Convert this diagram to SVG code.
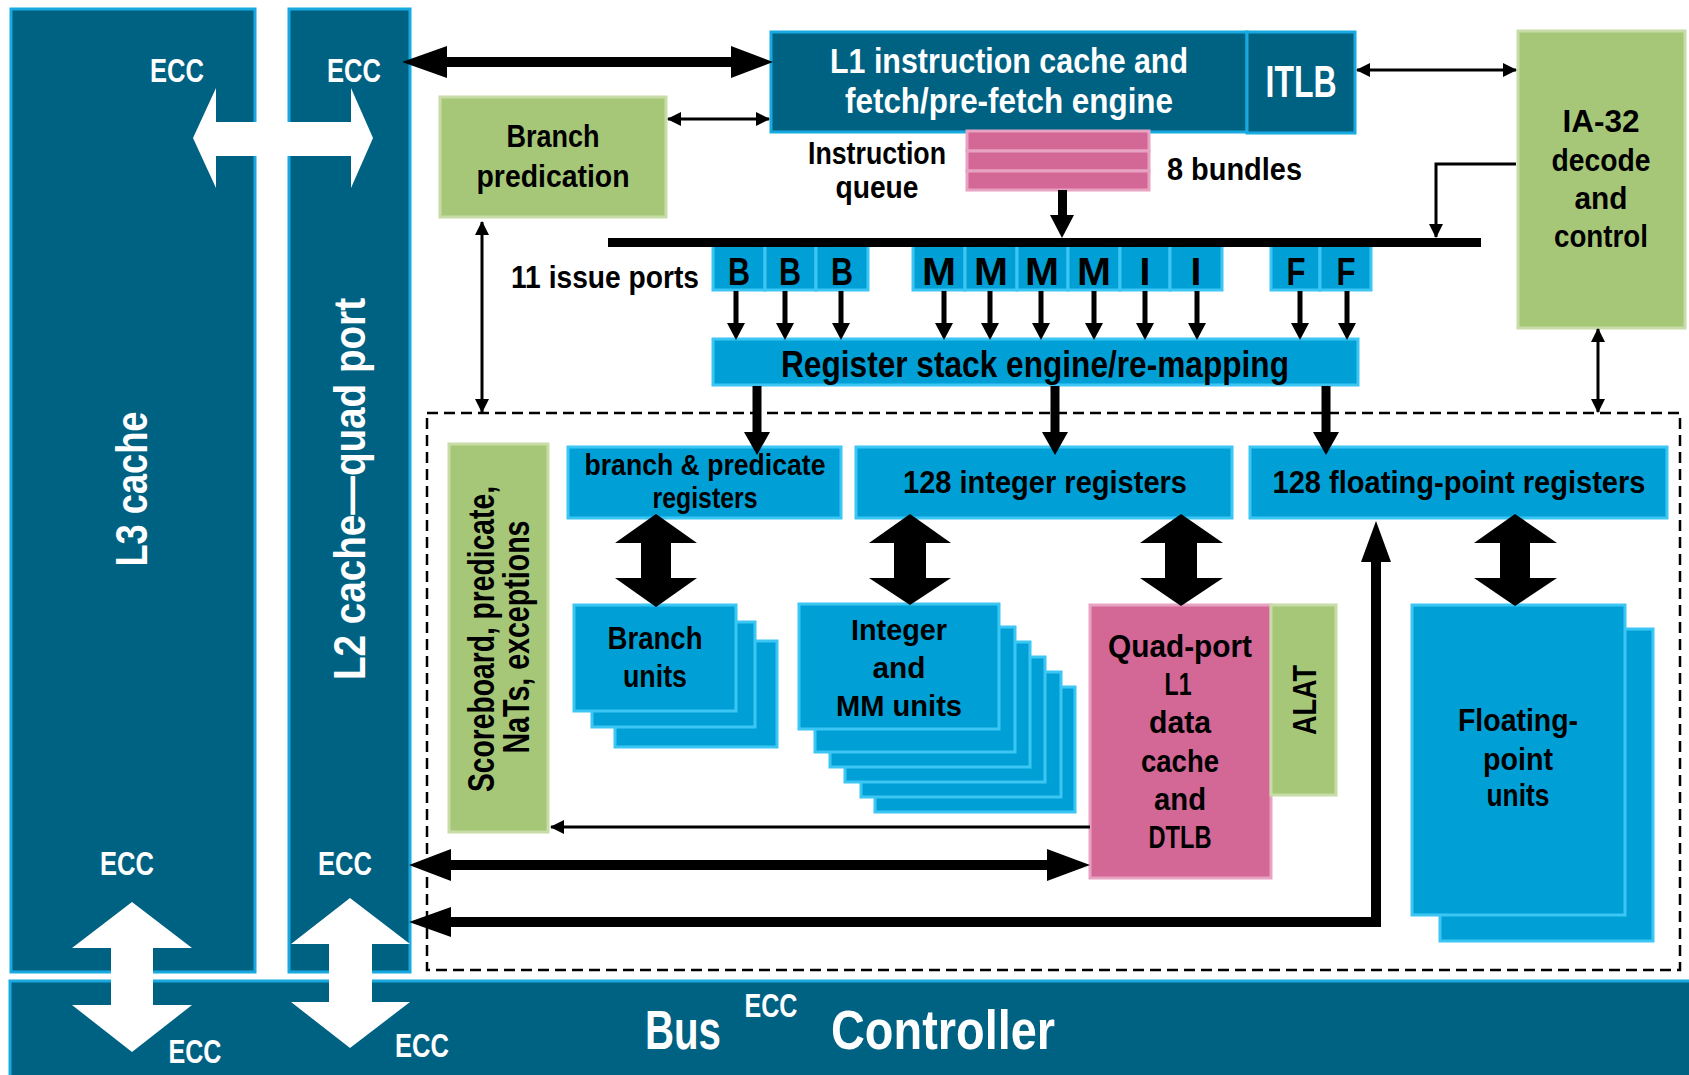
<svg xmlns="http://www.w3.org/2000/svg" width="1689" height="1075" viewBox="0 0 1689 1075">
<style>
.t{font-family:"Liberation Sans",Arial,sans-serif;font-weight:bold;}
.w{fill:#ffffff;}
.k{fill:#000000;}
.dark{fill:#006283;stroke:#17a9e0;stroke-width:3;}
.blue{fill:#00a0d7;stroke:#3cc6f4;stroke-width:3;}
.green{fill:#a7c778;stroke:#c7dca6;stroke-width:3;}
.pink{fill:#d36796;stroke:#e8a3c3;stroke-width:3;}
.thin{stroke:#000;stroke-width:3;fill:none;}
</style>
<defs>
<marker id="ah" viewBox="0 0 14 14" refX="13" refY="7" markerWidth="14" markerHeight="14" markerUnits="userSpaceOnUse" orient="auto-start-reverse"><path d="M0,0 L14,7 L0,14 z" fill="#000"/></marker>
</defs>
<rect width="1689" height="1075" fill="#ffffff"/>

<g id="l3-cache">
<rect class="dark" x="11" y="9" width="244" height="963"/>
<text class="t w" font-size="45" text-anchor="middle" textLength="155" lengthAdjust="spacingAndGlyphs" transform="translate(147,489) rotate(-90)">L3 cache</text>
<text class="t w" font-size="33" x="177" y="82" text-anchor="middle" textLength="54" lengthAdjust="spacingAndGlyphs">ECC</text>
<text class="t w" font-size="33" x="127" y="875" text-anchor="middle" textLength="54" lengthAdjust="spacingAndGlyphs">ECC</text>
</g>

<g id="l2-cache">
<rect class="dark" x="289" y="9" width="121" height="963"/>
<text class="t w" font-size="45" text-anchor="middle" textLength="382" lengthAdjust="spacingAndGlyphs" transform="translate(365,489) rotate(-90)">L2 cache—quad port</text>
<text class="t w" font-size="33" x="354" y="82" text-anchor="middle" textLength="54" lengthAdjust="spacingAndGlyphs">ECC</text>
<text class="t w" font-size="33" x="345" y="875" text-anchor="middle" textLength="54" lengthAdjust="spacingAndGlyphs">ECC</text>
</g>

<g id="bus-controller">
<rect class="dark" x="10" y="981" width="1690" height="100"/>
<text class="t w" font-size="56" x="683" y="1049" text-anchor="middle" textLength="76" lengthAdjust="spacingAndGlyphs">Bus</text>
<text class="t w" font-size="33" x="771" y="1017" text-anchor="middle" textLength="53" lengthAdjust="spacingAndGlyphs">ECC</text>
<text class="t w" font-size="56" x="943" y="1049" text-anchor="middle" textLength="224" lengthAdjust="spacingAndGlyphs">Controller</text>
<text class="t w" font-size="33" x="195" y="1063" text-anchor="middle" textLength="53" lengthAdjust="spacingAndGlyphs">ECC</text>
<text class="t w" font-size="33" x="422" y="1057" text-anchor="middle" textLength="54" lengthAdjust="spacingAndGlyphs">ECC</text>
</g>

<g id="l1-icache">
<rect class="dark" x="771" y="32" width="476" height="100"/>
<text class="t w" font-size="35" x="1009" y="73" text-anchor="middle" textLength="358" lengthAdjust="spacingAndGlyphs">L1 instruction cache and</text>
<text class="t w" font-size="35" x="1009" y="113" text-anchor="middle" textLength="328" lengthAdjust="spacingAndGlyphs">fetch/pre-fetch engine</text>
</g>

<g id="itlb">
<rect class="dark" x="1247" y="32" width="108" height="101"/>
<text class="t w" font-size="44" x="1301" y="97" text-anchor="middle" textLength="71" lengthAdjust="spacingAndGlyphs">ITLB</text>
</g>

<g id="branch-predication">
<rect class="green" x="440" y="97" width="226" height="120"/>
<text class="t k" font-size="31" x="553" y="147" text-anchor="middle" textLength="93" lengthAdjust="spacingAndGlyphs">Branch</text>
<text class="t k" font-size="31" x="553" y="187" text-anchor="middle" textLength="153" lengthAdjust="spacingAndGlyphs">predication</text>
</g>

<g id="instruction-queue">
<rect class="pink" x="967" y="131" width="182" height="20"/>
<rect class="pink" x="967" y="151" width="182" height="20"/>
<rect class="pink" x="967" y="171" width="182" height="19"/>
<text class="t k" font-size="32" x="877" y="164" text-anchor="middle" textLength="138" lengthAdjust="spacingAndGlyphs">Instruction</text>
<text class="t k" font-size="32" x="877" y="198" text-anchor="middle" textLength="83" lengthAdjust="spacingAndGlyphs">queue</text>
<text class="t k" font-size="32" x="1167" y="180" textLength="135" lengthAdjust="spacingAndGlyphs">8 bundles</text>
</g>

<g id="ia32-decode">
<rect class="green" x="1518" y="31" width="167" height="297"/>
<text class="t k" font-size="31" x="1601" y="132" text-anchor="middle" textLength="77" lengthAdjust="spacingAndGlyphs">IA-32</text>
<text class="t k" font-size="31" x="1601" y="171" text-anchor="middle" textLength="99" lengthAdjust="spacingAndGlyphs">decode</text>
<text class="t k" font-size="31" x="1601" y="209" text-anchor="middle" textLength="53" lengthAdjust="spacingAndGlyphs">and</text>
<text class="t k" font-size="31" x="1601" y="247" text-anchor="middle" textLength="94" lengthAdjust="spacingAndGlyphs">control</text>
</g>

<g id="issue-ports">
<text class="t k" font-size="32" x="605" y="288" text-anchor="middle" textLength="188" lengthAdjust="spacingAndGlyphs">11 issue ports</text>
<rect class="blue" x="713" y="244" width="52" height="46"/>
<rect class="blue" x="765" y="244" width="51" height="46"/>
<rect class="blue" x="816" y="244" width="52" height="46"/>
<rect class="blue" x="913" y="244" width="52" height="46"/>
<rect class="blue" x="965" y="244" width="52" height="46"/>
<rect class="blue" x="1017" y="244" width="51" height="46"/>
<rect class="blue" x="1068" y="244" width="52" height="46"/>
<rect class="blue" x="1120" y="244" width="50" height="46"/>
<rect class="blue" x="1170" y="244" width="52" height="46"/>
<rect class="blue" x="1271" y="244" width="49" height="46"/>
<rect class="blue" x="1320" y="244" width="51" height="46"/>
<g class="t k" font-size="39" text-anchor="middle">
<text x="739" y="285" textLength="22" lengthAdjust="spacingAndGlyphs">B</text>
<text x="790" y="285" textLength="22" lengthAdjust="spacingAndGlyphs">B</text>
<text x="842" y="285" textLength="22" lengthAdjust="spacingAndGlyphs">B</text>
<text x="939" y="285" textLength="34" lengthAdjust="spacingAndGlyphs">M</text>
<text x="991" y="285" textLength="34" lengthAdjust="spacingAndGlyphs">M</text>
<text x="1042" y="285" textLength="34" lengthAdjust="spacingAndGlyphs">M</text>
<text x="1094" y="285" textLength="34" lengthAdjust="spacingAndGlyphs">M</text>
<text x="1145" y="285">I</text>
<text x="1196" y="285">I</text>
<text x="1296" y="285" textLength="19" lengthAdjust="spacingAndGlyphs">F</text>
<text x="1346" y="285" textLength="19" lengthAdjust="spacingAndGlyphs">F</text>
</g>
</g>

<g id="register-stack-engine">
<rect class="blue" x="713" y="339" width="645" height="46"/>
<text class="t k" font-size="37" x="1035" y="377" text-anchor="middle" textLength="508" lengthAdjust="spacingAndGlyphs">Register stack engine/re-mapping</text>
</g>

<g id="execution-core">
<rect x="427" y="413" width="1253" height="557" fill="none" stroke="#000" stroke-width="2.5" stroke-dasharray="11 6"/>
</g>

<g id="scoreboard">
<rect class="green" x="449" y="444" width="99" height="388"/>
<text class="t k" font-size="36" text-anchor="middle" textLength="306" lengthAdjust="spacingAndGlyphs" transform="translate(494,639) rotate(-90)">Scoreboard, predicate,</text>
<text class="t k" font-size="36" text-anchor="middle" textLength="233" lengthAdjust="spacingAndGlyphs" transform="translate(529,637) rotate(-90)">NaTs, exceptions</text>
</g>

<g id="branch-predicate-registers">
<rect class="blue" x="568" y="447" width="273" height="71"/>
<text class="t k" font-size="30" x="705" y="475" text-anchor="middle" textLength="241" lengthAdjust="spacingAndGlyphs">branch &amp; predicate</text>
<text class="t k" font-size="30" x="705" y="508" text-anchor="middle" textLength="105" lengthAdjust="spacingAndGlyphs">registers</text>
</g>

<g id="integer-registers">
<rect class="blue" x="856" y="447" width="376" height="71"/>
<text class="t k" font-size="32" x="1045" y="493" text-anchor="middle" textLength="284" lengthAdjust="spacingAndGlyphs">128 integer registers</text>
</g>

<g id="fp-registers">
<rect class="blue" x="1250" y="447" width="417" height="71"/>
<text class="t k" font-size="32" x="1459" y="493" text-anchor="middle" textLength="373" lengthAdjust="spacingAndGlyphs">128 floating-point registers</text>
</g>

<g id="branch-units">
<rect class="blue" x="615" y="641" width="162" height="106"/>
<rect class="blue" x="592" y="622" width="163" height="105"/>
<rect class="blue" x="574" y="605" width="162" height="106"/>
<text class="t k" font-size="31" x="655" y="649" text-anchor="middle" textLength="95" lengthAdjust="spacingAndGlyphs">Branch</text>
<text class="t k" font-size="31" x="655" y="687" text-anchor="middle" textLength="64" lengthAdjust="spacingAndGlyphs">units</text>
</g>

<g id="integer-mm-units">
<rect class="blue" x="875" y="687" width="200" height="125"/>
<rect class="blue" x="861" y="672" width="200" height="125"/>
<rect class="blue" x="845" y="657" width="200" height="125"/>
<rect class="blue" x="830" y="642" width="200" height="125"/>
<rect class="blue" x="815" y="627" width="200" height="125"/>
<rect class="blue" x="799" y="604" width="200" height="125"/>
<text class="t k" font-size="30" x="899" y="640" text-anchor="middle" textLength="96" lengthAdjust="spacingAndGlyphs">Integer</text>
<text class="t k" font-size="30" x="899" y="678" text-anchor="middle" textLength="53" lengthAdjust="spacingAndGlyphs">and</text>
<text class="t k" font-size="30" x="899" y="716" text-anchor="middle" textLength="126" lengthAdjust="spacingAndGlyphs">MM units</text>
</g>

<g id="l1-dcache">
<rect class="pink" x="1090" y="605" width="181" height="273"/>
<g class="t k" font-size="32" text-anchor="middle">
<text x="1180" y="657" textLength="144" lengthAdjust="spacingAndGlyphs">Quad-port</text>
<text x="1178" y="695" textLength="27" lengthAdjust="spacingAndGlyphs">L1</text>
<text x="1180" y="733" textLength="62" lengthAdjust="spacingAndGlyphs">data</text>
<text x="1180" y="772" textLength="78" lengthAdjust="spacingAndGlyphs">cache</text>
<text x="1180" y="810" textLength="52" lengthAdjust="spacingAndGlyphs">and</text>
<text x="1180" y="848" textLength="63" lengthAdjust="spacingAndGlyphs">DTLB</text>
</g>
</g>

<g id="alat">
<rect class="green" x="1271" y="605" width="65" height="190"/>
<text class="t k" font-size="34" text-anchor="middle" textLength="70" lengthAdjust="spacingAndGlyphs" transform="translate(1316,700) rotate(-90)">ALAT</text>
</g>

<g id="fp-units">
<rect class="blue" x="1440" y="629" width="213" height="312"/>
<rect class="blue" x="1412" y="605" width="213" height="310"/>
<text class="t k" font-size="32" x="1518" y="731" text-anchor="middle" textLength="120" lengthAdjust="spacingAndGlyphs">Floating-</text>
<text class="t k" font-size="32" x="1518" y="770" text-anchor="middle" textLength="70" lengthAdjust="spacingAndGlyphs">point</text>
<text class="t k" font-size="32" x="1518" y="806" text-anchor="middle" textLength="63" lengthAdjust="spacingAndGlyphs">units</text>
</g>

<g id="connectors">
<!-- white arrows between caches and bus -->
<polygon fill="#fff" points="193,138 216,88 216,122 351,122 351,88 373,138 351,188 351,156 216,156 216,188"/>
<polygon fill="#fff" points="132,902 192,948 153,948 153,1005 192,1005 132,1052 72,1005 111,1005 111,948 72,948"/>
<polygon fill="#fff" points="350,898 410,944 372,944 372,1002 410,1002 350,1048 291,1002 329,1002 329,944 291,944"/>
<!-- L2 to L1 instruction cache -->
<polygon fill="#000" points="402,62 447,46 447,57 731,57 731,46 773,62 731,78 731,67 447,67 447,78"/>
<!-- thin connectors -->
<line class="thin" x1="668" y1="119" x2="769" y2="119" marker-start="url(#ah)" marker-end="url(#ah)"/>
<line class="thin" x1="1357" y1="70" x2="1516" y2="70" marker-start="url(#ah)" marker-end="url(#ah)"/>
<path class="thin" d="M1516,164 H1436 V237" marker-end="url(#ah)"/>
<line class="thin" x1="482" y1="222" x2="482" y2="412" marker-start="url(#ah)" marker-end="url(#ah)"/>
<line class="thin" x1="1598" y1="329" x2="1598" y2="412" marker-start="url(#ah)" marker-end="url(#ah)"/>
<line class="thin" x1="1090" y1="827" x2="551" y2="827" marker-end="url(#ah)"/>
<!-- queue to issue bar -->
<polygon fill="#000" points="1058,190 1067,190 1067,215 1074,215 1062,238 1050,215 1058,215"/>
<!-- issue bar -->
<rect x="608" y="238" width="873" height="9" fill="#000"/>
<!-- port arrows -->
<g fill="#000">
<polygon points="733.5,291 738.5,291 738.5,323 745,323 736,340 727,323 733.5,323"/>
<polygon points="782.5,291 787.5,291 787.5,323 794,323 785,340 776,323 782.5,323"/>
<polygon points="838.5,291 843.5,291 843.5,323 850,323 841,340 832,323 838.5,323"/>
<polygon points="941.5,291 946.5,291 946.5,323 953,323 944,340 935,323 941.5,323"/>
<polygon points="987.5,291 992.5,291 992.5,323 999,323 990,340 981,323 987.5,323"/>
<polygon points="1038.5,291 1043.5,291 1043.5,323 1050,323 1041,340 1032,323 1038.5,323"/>
<polygon points="1091.5,291 1096.5,291 1096.5,323 1103,323 1094,340 1085,323 1091.5,323"/>
<polygon points="1142.5,291 1147.5,291 1147.5,323 1154,323 1145,340 1136,323 1142.5,323"/>
<polygon points="1194.5,291 1199.5,291 1199.5,323 1206,323 1197,340 1188,323 1194.5,323"/>
<polygon points="1297.5,291 1302.5,291 1302.5,323 1309,323 1300,340 1291,323 1297.5,323"/>
<polygon points="1344.5,291 1349.5,291 1349.5,323 1356,323 1347,340 1338,323 1344.5,323"/>
</g>
<!-- RSE to register files -->
<g fill="#000">
<polygon points="752.5,386 761.5,386 761.5,432 770,432 757,455 744,432 752.5,432"/>
<polygon points="1050.5,386 1059.5,386 1059.5,432 1068,432 1055,455 1042,432 1050.5,432"/>
<polygon points="1321.5,386 1330.5,386 1330.5,432 1339,432 1326,455 1313,432 1321.5,432"/>
</g>
<!-- register files to units (big double arrows) -->
<g fill="#000">
<polygon points="656,514 697,543 671,543 671,578 697,578 656,607 615,578 641,578 641,543 615,543"/>
<polygon points="910,514 951,543 926,543 926,578 951,578 910,605 869,578 894,578 894,543 869,543"/>
<polygon points="1181,514 1223,543 1197,543 1197,578 1223,578 1181,606 1140,578 1165,578 1165,543 1140,543"/>
<polygon points="1515,514 1557,543 1530,543 1530,578 1557,578 1515,606 1474,578 1500,578 1500,543 1474,543"/>
</g>
<!-- L1 data cache to L2 -->
<polygon fill="#000" points="409,865 451,849 451,860 1047,860 1047,849 1090,865 1047,881 1047,870 451,870 451,881"/>
<!-- L2 to FP registers -->
<polygon fill="#000" points="409,922 451,907 451,917 1371,917 1371,562 1361,562 1376,521 1391,562 1381,562 1381,927 451,927 451,937"/>
</g>
</svg>
